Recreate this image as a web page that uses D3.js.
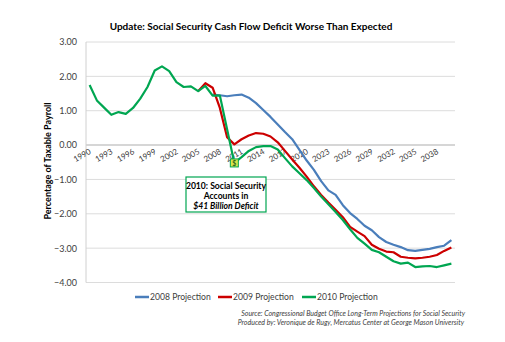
<!DOCTYPE html>
<html><head><meta charset="utf-8">
<script src="https://cdn.jsdelivr.net/npm/d3@7"></script>
<style>
body{margin:0;background:#fff;}
svg{display:block;font-family:Lato,"Open Sans",sans-serif;}
</style></head><body>
<svg id="c" width="505" height="342"></svg>
<script>
const years = d3.range(1990, 2041);
const tickYears = [1990,1993,1996,1999,2002,2005,2008,2011,2014,2017,2020,2023,2026,2029,2032,2035,2038];
const yTicks = [3,2,1,0,-1,-2,-3,-4];
const seriesNames = ["2008 Projection","2009 Projection","2010 Projection"];
const seriesColors = ["#4a7ebb","#cc0000","#00a651"];

// 2010 projection (includes history), 1990-2040
const proj2010 = [1.75,1.30,1.09,0.88,0.96,0.91,1.08,1.35,1.69,2.17,2.29,2.15,1.83,1.69,1.71,1.57,1.72,1.44,1.44,0.46,
  -0.52,-0.35,-0.17,-0.06,-0.03,-0.03,-0.13,-0.38,-0.62,-0.82,-1.02,-1.25,-1.50,-1.72,-1.95,-2.18,-2.45,-2.70,-2.87,-3.05,
  -3.12,-3.25,-3.38,-3.45,-3.42,-3.55,-3.53,-3.52,-3.55,-3.50,-3.45];
// 2009 projection, 2005-2040
const proj2009Start = 2005;
const proj2009 = [1.57,1.80,1.67,1.08,0.23,0.02,0.17,0.28,0.35,0.33,0.25,0.08,-0.17,-0.42,-0.66,-0.92,-1.20,-1.45,-1.67,-1.88,
  -2.10,-2.38,-2.52,-2.65,-2.90,-3.02,-3.10,-3.12,-3.25,-3.28,-3.30,-3.28,-3.25,-3.20,-3.08,-2.98];
// 2008 projection, 2007-2040
const proj2008Start = 2007;
const proj2008 = [1.47,1.45,1.42,1.45,1.47,1.38,1.22,1.02,0.82,0.60,0.38,0.17,-0.14,-0.45,-0.72,-1.05,-1.32,-1.45,-1.75,-1.98,
  -2.15,-2.35,-2.48,-2.68,-2.82,-2.90,-2.97,-3.06,-3.08,-3.05,-3.02,-2.97,-2.93,-2.77];

const toPts = (arr, start) => arr.map((v,i)=>({year:start+i, v}));
const series = [toPts(proj2008, proj2008Start), toPts(proj2009, proj2009Start), toPts(proj2010, 1990)];

const svg = d3.select("#c");
const L=86, R=455, T=42, B=282.5;
const x = d3.scaleBand().domain(years).range([L,R]);
const xc = yr => x(yr) + x.bandwidth()/2;
const y = d3.scaleLinear().domain([-4,3]).range([B,T]);

// gridlines
svg.append("g").selectAll("line").data(yTicks).join("line")
  .attr("x1",L).attr("x2",R).attr("y1",d=>y(d)).attr("y2",d=>y(d))
  .attr("stroke", d=> d===0 ? "#c8c8c8" : "#dcdcdc")
  .attr("stroke-width", d=> d===0 ? 1.6 : 1);
// y axis line
svg.append("line").attr("x1",L).attr("x2",L).attr("y1",T).attr("y2",B).attr("stroke","#d0d0d0");

// y axis labels
const yAxis = d3.axisLeft(y).tickValues(yTicks).tickFormat(d3.format(".2f")).tickSize(0).tickPadding(9);
const ya = svg.append("g").attr("transform",`translate(${L},0)`).call(yAxis);
ya.select(".domain").remove();
ya.selectAll("text").attr("font-size","9px").attr("fill","#404040").attr("font-family","Lato,sans-serif");

// x axis labels
svg.append("g").selectAll("text").data(tickYears).join("text")
  .attr("transform", d=>`translate(${xc(d)+2},${y(0)+8}) rotate(-30)`)
  .attr("text-anchor","end").attr("font-size","8px").attr("fill","#404040")
  .text(d=>d);

// lines
const line = d3.line().x(d=>xc(d.year)).y(d=>y(d.v));
svg.append("g").selectAll("path").data(series).join("path")
  .attr("d", line).attr("fill","none")
  .attr("stroke",(d,i)=>seriesColors[i]).attr("stroke-width",2.2)
  .attr("stroke-linejoin","round");

// marker at 2010
const mv = proj2010[2010-1990];
svg.append("rect").attr("x",xc(2010)-4).attr("y",y(mv)-4).attr("width",8).attr("height",8)
  .attr("fill","#dbe64a").attr("stroke","#00a651").attr("stroke-width",1);
svg.append("text").attr("x",xc(2010)).attr("y",y(mv)+3).attr("text-anchor","middle")
  .attr("font-size","7px").attr("font-weight","bold").attr("fill","#2e6b1e").text("$");

// annotation box
svg.append("rect").attr("x",186).attr("y",177).attr("width",80).attr("height",35)
  .attr("fill","#fff").attr("stroke","#00a651").attr("stroke-width",1.2);
const ann = svg.append("text").attr("text-anchor","middle").attr("font-size","8.6px").attr("font-weight","bold").attr("fill","#000");
ann.append("tspan").attr("x",226).attr("y",188.5).text("2010: Social Security");
ann.append("tspan").attr("x",226).attr("y",198.5).text("Accounts in");
ann.append("tspan").attr("x",226).attr("y",209).attr("font-style","italic").text("$41 Billion Deficit");

// title
svg.append("text").attr("x",251).attr("y",29.5).attr("text-anchor","middle")
  .attr("font-size","10px").attr("font-weight","bold").attr("fill","#000")
  .text("Update: Social Security Cash Flow Deficit Worse Than Expected");

// y title
svg.append("text").attr("transform","translate(51,161) rotate(-90)").attr("text-anchor","middle")
  .attr("font-size","9px").attr("font-weight","bold").attr("fill","#000")
  .text("Percentage of Taxable Payroll");

// legend
const legX = [135,218,302];
const lg = svg.append("g").selectAll("g").data(seriesNames).join("g")
  .attr("transform",(d,i)=>`translate(${legX[i]},297)`);
lg.append("line").attr("x1",0).attr("x2",14).attr("y1",0).attr("y2",0)
  .attr("stroke",(d,i)=>seriesColors[i]).attr("stroke-width",2.5);
lg.append("text").attr("x",15).attr("y",3.2).attr("font-size","8.6px").attr("fill","#404040").text(d=>d);

// source
const src = svg.append("text").attr("text-anchor","end").attr("font-size","7px").attr("font-style","italic").attr("fill","#404040");
src.append("tspan").attr("x",465).attr("y",316).text("Source: Congressional Budget Office Long-Term Projections for Social  Security");
src.append("tspan").attr("x",464).attr("y",325).text("Produced by: Veronique de Rugy, Mercatus Center at George Mason University");
</script>
</body></html>
